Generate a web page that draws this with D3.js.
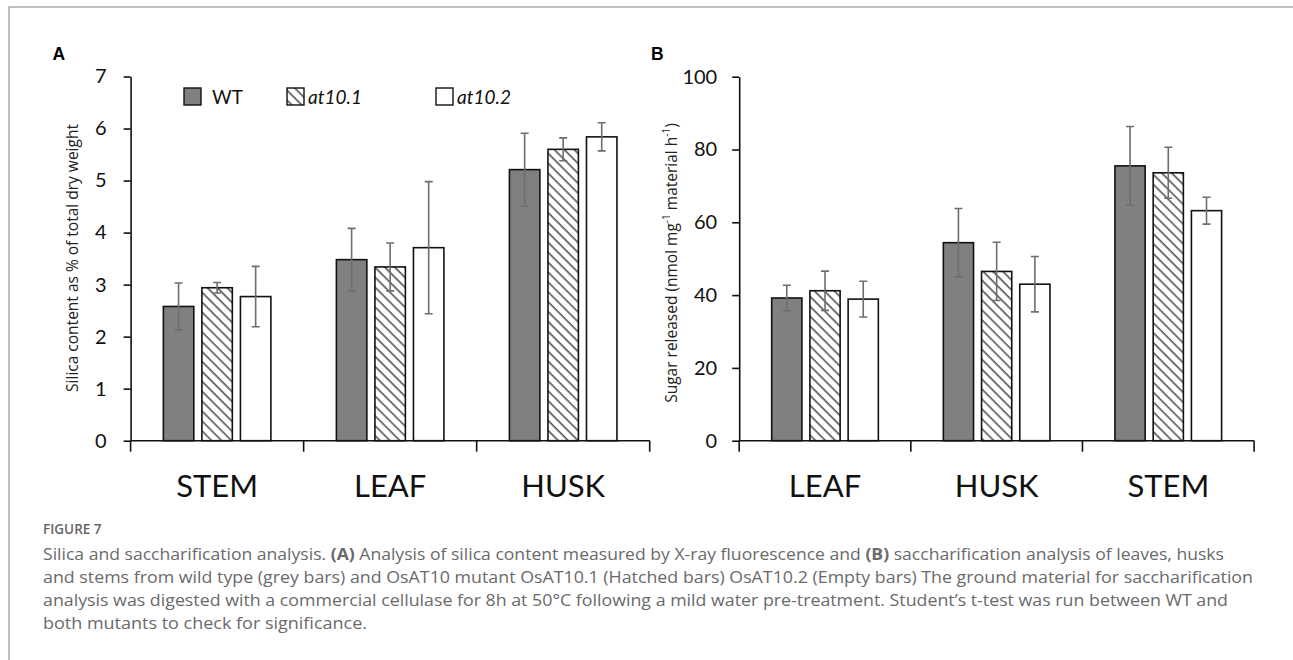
<!DOCTYPE html>
<html>
<head>
<meta charset="utf-8">
<script src="https://cdn.jsdelivr.net/npm/d3@7"></script>
<style>
  body { margin: 0; background: #fff; }
  svg { display: block; }
</style>
</head>
<body>
<div id="chart"></div>
<script>
// ---- data ----
const seriesNames = ["WT", "at10.1", "at10.2"];

// panel A: silica content (% of dry weight)
const silicaCats = ["STEM", "LEAF", "HUSK"];
const silicaWT = [2.58, 3.48, 5.21];
const silicaAt101 = [2.94, 3.34, 5.6];
const silicaAt102 = [2.77, 3.71, 5.84];
const silicaErrWT = [0.45, 0.6, 0.7];
const silicaErrAt101 = [0.1, 0.46, 0.22];
const silicaErrAt102 = [0.58, 1.27, 0.27];
const silicaTicks = [0, 1, 2, 3, 4, 5, 6, 7];

// panel B: sugar released
const sugarCats = ["LEAF", "HUSK", "STEM"];
const sugarWT = [39.2, 54.4, 75.5];
const sugarAt101 = [41.2, 46.5, 73.6];
const sugarAt102 = [38.9, 43.0, 63.2];
const sugarErrWT = [3.5, 9.4, 10.8];
const sugarErrAt101 = [5.4, 8.0, 7.0];
const sugarErrAt102 = [4.9, 7.6, 3.7];
const sugarTicks = [0, 20, 40, 60, 80, 100];

const captionLines = [
  [["Silica and saccharification analysis. ", 400], ["(A)", 700], [" Analysis of silica content measured by X-ray fluorescence and ", 400], ["(B)", 700], [" saccharification analysis of leaves, husks", 400]],
  [["and stems from wild type (grey bars) and OsAT10 mutant OsAT10.1 (Hatched bars) OsAT10.2 (Empty bars) The ground material for saccharification", 400]],
  [["analysis was digested with a commercial cellulase for 8h at 50°C following a mild water pre-treatment. Student’s t-test was run between WT and", 400]],
  [["both mutants to check for significance.", 400]]
];
const captionWidths = [1181, 1210, 1185, 324];

const W = 1293, H = 660;
const font = "Lato, 'Open Sans', sans-serif";
const fills = ["#808080", "url(#hatch)", "#ffffff"];

const svg = d3.select("#chart").append("svg")
    .attr("width", W)
    .attr("height", H);

// hatch pattern for at10.1 (lines running top-left to bottom-right)
const defs = svg.append("defs");
const pat = defs.append("pattern")
    .attr("id", "hatch")
    .attr("patternUnits", "userSpaceOnUse")
    .attr("width", 7)
    .attr("height", 7)
    .attr("patternTransform", "rotate(45)");
pat.append("rect").attr("width", 7).attr("height", 7).attr("fill", "#fff");
pat.append("line")
    .attr("x1", 0).attr("y1", 0).attr("x2", 7).attr("y2", 0)
    .attr("stroke", "#555").attr("stroke-width", 3.2);

// frame
svg.append("path")
    .attr("d", `M9,${H} L9,7 L${W},7`)
    .attr("fill", "none")
    .attr("stroke", "#aaa")
    .attr("stroke-width", 1.5);

function drawPanel(opts) {
    const g = svg.append("g");
    const x = d3.scaleBand().domain(opts.cats).range([opts.x0, opts.x1]);
    const inner = d3.scaleBand().domain(seriesNames).range([0, x.bandwidth()])
        .paddingInner(0.21).paddingOuter(0.85);
    const y = d3.scaleLinear().domain(opts.domain).range([opts.y0, opts.y1]);

    const values = [opts.wt, opts.a1, opts.a2];
    const errs = [opts.ewt, opts.e1, opts.e2];

    // bars
    values.forEach((vals, s) => {
        g.selectAll(null).data(vals).enter().append("rect")
            .attr("x", (d, i) => x(opts.cats[i]) + inner(seriesNames[s]))
            .attr("y", d => y(d))
            .attr("width", inner.bandwidth())
            .attr("height", d => y(0) - y(d))
            .attr("fill", fills[s])
            .attr("stroke", "#111")
            .attr("stroke-width", 1.6);
    });

    // error bars
    values.forEach((vals, s) => {
        vals.forEach((v, i) => {
            const cx = x(opts.cats[i]) + inner(seriesNames[s]) + inner.bandwidth() / 2;
            const e = errs[s][i];
            g.append("path")
                .attr("d", `M${cx - 4},${y(v + e)} H${cx + 4} M${cx},${y(v + e)} V${y(v - e)} M${cx - 4},${y(v - e)} H${cx + 4}`)
                .attr("fill", "none")
                .attr("stroke", "#6e6e6e")
                .attr("stroke-width", 1.6);
        });
    });

    // y axis
    const yAxis = g.append("g")
        .attr("transform", `translate(${opts.x0},0)`)
        .call(d3.axisLeft(y).tickValues(opts.ticks).tickFormat(d3.format("d"))
            .tickSize(7).tickPadding(opts.pad).tickSizeOuter(0));
    yAxis.select(".domain").attr("stroke", "#111").attr("stroke-width", 1.6);
    yAxis.selectAll(".tick line").attr("stroke", "#111").attr("stroke-width", 1.6);
    yAxis.selectAll(".tick text")
        .attr("font-family", font)
        .attr("font-size", 20)
        .attr("fill", "#111");

    // x axis with category boundaries
    g.append("line")
        .attr("x1", opts.x0).attr("x2", opts.x1)
        .attr("y1", y(0)).attr("y2", y(0))
        .attr("stroke", "#111").attr("stroke-width", 1.6);
    const bounds = opts.cats.map(c => x(c)).concat([opts.x1]);
    g.selectAll(null).data(bounds).enter().append("line")
        .attr("x1", d => d).attr("x2", d => d)
        .attr("y1", y(0)).attr("y2", y(0) + 11)
        .attr("stroke", "#111").attr("stroke-width", 1.6);
    g.selectAll(null).data(opts.cats).enter().append("text")
        .attr("x", d => x(d) + x.bandwidth() / 2)
        .attr("y", 497)
        .attr("text-anchor", "middle")
        .attr("font-family", font)
        .attr("font-size", 31)
        .attr("fill", "#111")
        .text(d => d);

    // y title
    const t = g.append("text")
        .attr("transform", `translate(${opts.titleX},${opts.titleY}) rotate(-90)`)
        .attr("text-anchor", "middle")
        .attr("font-family", "'Open Sans', sans-serif")
        .attr("font-size", 15.5)
        .attr("fill", "#222");
    opts.title.forEach(p => {
        const ts = t.append("tspan").text(p[0]);
        if (p[1]) ts.attr("font-size", 10).attr("baseline-shift", "super");
    });

    // panel letter
    g.append("text")
        .attr("x", opts.letterX).attr("y", 60)
        .attr("font-family", "'Liberation Sans', Arial, sans-serif")
        .attr("font-weight", 700)
        .attr("font-size", 17.5)
        .attr("fill", "#000")
        .text(opts.letter);
    return g;
}

drawPanel({
    cats: silicaCats, x0: 130.6, x1: 649.7, y0: 440.7, y1: 76.5, domain: [0, 7],
    wt: silicaWT, a1: silicaAt101, a2: silicaAt102,
    ewt: silicaErrWT, e1: silicaErrAt101, e2: silicaErrAt102,
    ticks: silicaTicks, pad: 17, titleX: 78, titleY: 258,
    title: [["Silica content as % of total dry weight"]],
    letter: "A", letterX: 52.5
});

drawPanel({
    cats: sugarCats, x0: 739.2, x1: 1254.1, y0: 440.7, y1: 76.7, domain: [0, 100],
    wt: sugarWT, a1: sugarAt101, a2: sugarAt102,
    ewt: sugarErrWT, e1: sugarErrAt101, e2: sugarErrAt102,
    ticks: sugarTicks, pad: 15, titleX: 677, titleY: 263,
    title: [["Sugar released (nmol mg"], ["-1", true], [" material h"], ["-1", true], [")"]],
    letter: "B", letterX: 651
});

// legend (panel A)
const legX = [184, 287, 436];
const leg = svg.append("g");
seriesNames.forEach((s, i) => {
    leg.append("rect")
        .attr("x", legX[i]).attr("y", 88)
        .attr("width", 17).attr("height", 17)
        .attr("fill", fills[i])
        .attr("stroke", "#111")
        .attr("stroke-width", 1.4);
    leg.append("text")
        .attr("x", legX[i] + (i === 0 ? 28 : 21)).attr("y", 104)
        .attr("font-family", font)
        .attr("font-size", 19)
        .attr("font-style", i === 0 ? "normal" : "italic")
        .attr("fill", "#111")
        .text(s);
});

// caption
svg.append("text")
    .attr("x", 43).attr("y", 534)
    .attr("font-family", "'Open Sans', sans-serif")
    .attr("font-weight", 600)
    .attr("font-size", 13.5)
    .attr("fill", "#666")
    .text("FIGURE 7");

captionLines.forEach((parts, li) => {
    const t = svg.append("text")
        .attr("x", 43).attr("y", 559.5 + li * 23.3)
        .attr("font-family", "'Open Sans', sans-serif")
        .attr("font-size", 16.5)
        .attr("fill", "#6a6a6a")
        .attr("textLength", captionWidths[li])
        .attr("lengthAdjust", "spacingAndGlyphs");
    parts.forEach(p => {
        t.append("tspan").attr("font-weight", p[1]).text(p[0]);
    });
});
</script>
</body>
</html>
